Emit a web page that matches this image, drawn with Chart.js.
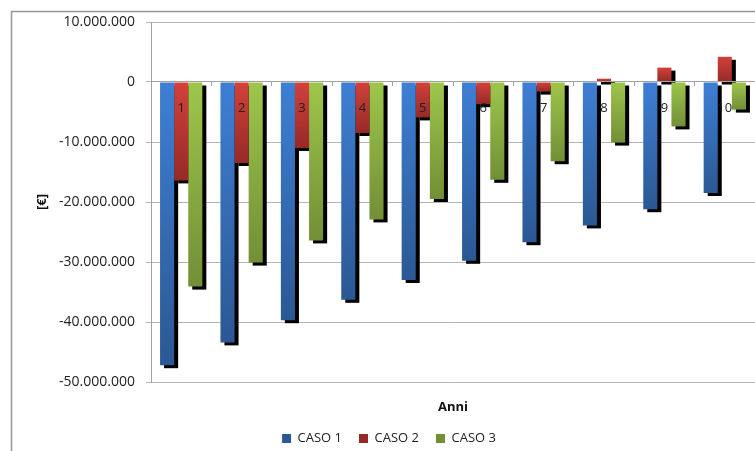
<!DOCTYPE html>
<html>
<head>
<meta charset="utf-8">
<script src="https://cdn.jsdelivr.net/npm/chart.js@4/dist/chart.umd.min.js"></script>
<style>
  html, body { margin: 0; padding: 0; background: #fff; overflow: hidden; }
  #wrap { width: 755px; height: 451px; position: relative; }
</style>
</head>
<body>
<div id="wrap"><canvas id="chart" width="755" height="451"></canvas></div>
<script>
// Anni di esercizio
const anni = ['1', '2', '3', '4', '5', '6', '7', '8', '9', '10'];

// Flussi cumulati [€] per ciascun caso
const caso1 = [-47200000, -43400000, -39700000, -36300000, -33000000, -29800000, -26700000, -23900000, -21200000, -18500000];
const caso2 = [-16400000, -13500000, -11000000, -8500000, -5900000, -3700000, -1600000, 550000, 2400000, 4200000];
const caso3 = [-34100000, -30100000, -26400000, -22900000, -19500000, -16300000, -13200000, -10100000, -7400000, -4600000];

const serieNomi = ['CASO 1', 'CASO 2', 'CASO 3'];

const FONT = "'Open Sans', 'Liberation Sans', sans-serif";

// numero con punto come separatore delle migliaia
function formatEuro(v) {
  const s = String(Math.abs(Math.round(v))).replace(/\B(?=(\d{3})+(?!\d))/g, '.');
  return (v < 0 ? '-' : '') + s;
}

// sfumatura verticale per ogni barra: chiara in alto, scura in basso
function barGradient(top, bottom, legend) {
  return (ctx) => {
    const chart = ctx.chart;
    const yScale = chart.scales.y;
    if (ctx.type !== 'data' || !yScale || !chart.chartArea) return legend;
    const p0 = yScale.getPixelForValue(0);
    const p1 = yScale.getPixelForValue(ctx.parsed.y);
    const y0 = Math.min(p0, p1), y1 = Math.max(p0, p1);
    if (y1 - y0 < 1) return top;
    const g = chart.ctx.createLinearGradient(0, y0, 0, y1);
    g.addColorStop(0, top);
    g.addColorStop(1, bottom);
    return g;
  };
}

// ombra nera spostata sotto e a destra di ogni barra
const barShadow = {
  id: 'barShadow',
  beforeDatasetsDraw(chart) {
    const ctx = chart.ctx;
    ctx.save();
    ctx.fillStyle = '#000';
    chart.getSortedVisibleDatasetMetas().forEach((meta) => {
      meta.data.forEach((bar) => {
        const { x, y, base, width } = bar.getProps(['x', 'y', 'base', 'width'], true);
        const top = Math.min(y, base);
        const h = Math.abs(base - y);
        ctx.fillRect(x - width / 2 + 4, top + 3, width, h);
      });
    });
    ctx.restore();
  }
};

// sfondo bianco e cornice del grafico
const frame = {
  id: 'frame',
  beforeDraw(chart) {
    const { ctx, width, height } = chart;
    ctx.save();
    ctx.fillStyle = '#fff';
    ctx.fillRect(0, 0, width, height);
    ctx.strokeStyle = '#979797';
    ctx.lineWidth = 1.5;
    ctx.beginPath();
    ctx.moveTo(11.5, height);
    ctx.lineTo(11.5, 11.5);
    ctx.lineTo(width, 11.5);
    ctx.stroke();
    ctx.restore();
  }
};

const GRID = '#b5b5b5';
const AXIS = '#a3a3a3';

new Chart(document.getElementById('chart'), {
  type: 'bar',
  data: {
    labels: anni,
    datasets: [
      { label: serieNomi[0], data: caso1, backgroundColor: barGradient('#3e7fd4', '#2b5893', '#3a72bd') },
      { label: serieNomi[1], data: caso2, backgroundColor: barGradient('#d3413b', '#962a27', '#c0352f') },
      { label: serieNomi[2], data: caso3, backgroundColor: barGradient('#9ec64b', '#728f36', '#8cb440') }
    ]
  },
  options: {
    responsive: false,
    animation: false,
    devicePixelRatio: 1,
    datasets: { bar: { categoryPercentage: 0.7, barPercentage: 1.0, borderWidth: 0 } },
    layout: { padding: { left: 23, right: 0, top: 22, bottom: -4 } },
    plugins: {
      legend: {
        position: 'bottom',
        labels: {
          boxWidth: 9, boxHeight: 9, padding: 17,
          color: '#222', font: { family: FONT, size: 13 }
        }
      },
      tooltip: { enabled: false }
    },
    scales: {
      x: {
        type: 'category',
        position: { y: 0 },
        offset: true,
        grid: { offset: true, drawOnChartArea: false, drawTicks: true, tickLength: 4, color: AXIS, z: 1 },
        border: { display: true, color: AXIS, z: 1 },
        ticks: { padding: 14, z: 1, color: '#222', font: { family: FONT, size: 13 }, maxRotation: 0, autoSkip: false }
      },
      x2: {
        type: 'category',
        position: 'bottom',
        offset: true,
        grid: { display: false, drawTicks: false },
        border: { display: false },
        ticks: { display: false },
        title: { display: true, text: 'Anni', color: '#111', font: { family: FONT, size: 13, weight: 'bold' }, padding: 0 },
        afterFit: (s) => { s.height = 33; }
      },
      y: {
        min: -50000000,
        max: 10000000,
        ticks: {
          stepSize: 10000000,
          padding: 11,
          color: '#222',
          font: { family: FONT, size: 14 },
          callback: (v) => formatEuro(v)
        },
        grid: { color: GRID, lineWidth: 1, tickLength: 5 },
        border: { display: true, color: AXIS },
        title: { display: true, text: '[€]', color: '#111', font: { family: FONT, size: 13, weight: 'bold' }, padding: { top: 11, bottom: 0 } },
        afterFit: (s) => { s.width = 128; }
      }
    }
  },
  plugins: [frame, barShadow]
});
</script>
</body>
</html>
